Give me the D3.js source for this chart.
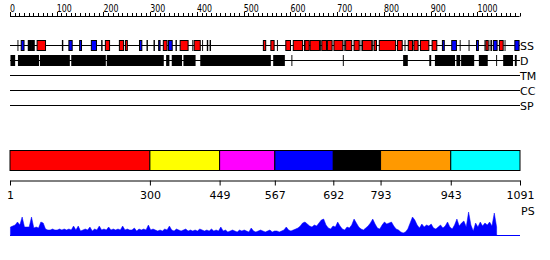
<!DOCTYPE html>
<html>
<head>
<meta charset="utf-8">
<script src="https://cdn.jsdelivr.net/npm/d3@7"></script>
<style>
  body { margin: 0; background: #fff; }
  text { font-family: "DejaVu Sans", sans-serif; }
</style>
</head>
<body>
<div id="chart"></div>
<script>
// sequence length
const seqLength = 1091

// secondary structure: helices (red), strands (blue), short marks (black)
const helixRanges = [[43, 45], [58, 76], [204, 213], [234, 243], [247, 251], [328, 336], [364, 381], [394, 407],
	[542, 547], [558, 565], [590, 600], [606, 626], [631, 640], [642, 662], [667, 677], [679, 689], [693, 712],
	[718, 731], [736, 747], [754, 774], [779, 784], [790, 825], [829, 839], [852, 861], [864, 873], [878, 896],
	[903, 913], [1018, 1023], [1047, 1055]]
const strandRanges = [[24, 30], [126, 133], [149, 153], [174, 185], [277, 282], [318, 321], [339, 347],
	[925, 929], [945, 955], [998, 1002], [1034, 1042], [1080, 1089]]
const ssMarks = [[16, 18], [38, 43], [45, 53], [111, 114], [195, 198], [292, 295], [307, 310], [354, 357],
	[390, 392], [411, 413], [421, 424], [427, 430], [571, 573], [629, 631], [663, 665], [714, 716], [750, 752],
	[775, 777], [844, 846], [962, 964], [981, 983], [1015, 1017], [1026, 1028], [1029, 1031], [1058, 1060]]

// disordered regions
const disorderRanges = [[1, 11], [17, 62], [64, 128], [131, 205], [207, 329], [334, 341], [346, 368], [371, 397],
	[407, 558], [563, 588], [602, 604], [712, 714], [841, 851], [897, 901], [909, 952], [955, 963], [965, 993],
	[1003, 1022], [1040, 1042], [1055, 1076], [1080, 1084]]

// tracks
const trackNames = ['SS', 'D', 'TM', 'CC', 'SP']

// domain boundaries
const domainBounds = [1, 300, 449, 567, 692, 793, 943, 1091]
const domainColors = ['#ff0000', '#ffff00', '#ff00ff', '#0000ff', '#000000', '#ff9900', '#00ffff']

// PS scores, one value per 5 residues starting at residue 1
const psBin = 5
const psScores = [8, 9, 10, 13, 10, 18, 8, 8, 8, 18, 7, 8, 7, 13, 12, 6, 5, 5, 6, 5,
	5, 6, 5, 6, 5, 6, 5, 9, 5, 9, 4, 5, 6, 5, 8, 4, 6, 5, 9, 5,
	6, 5, 8, 5, 6, 5, 6, 5, 9, 5, 6, 5, 5, 7, 4, 6, 5, 6, 5, 10,
	5, 6, 5, 4, 5, 4, 6, 5, 9, 5, 4, 6, 5, 4, 5, 6, 4, 5, 4, 5,
	4, 6, 5, 4, 5, 4, 6, 4, 5, 4, 8, 4, 5, 3, 4, 5, 4, 3, 5, 4,
	5, 4, 3, 7, 4, 3, 4, 5, 4, 3, 4, 5, 3, 4,
	4, 3, 4, 5, 8, 5, 4, 5, 6, 7, 9, 12, 13, 11, 9, 8, 10, 9, 12, 15,
	16, 10, 7, 6, 9, 8, 13, 9, 6, 5, 8, 7, 10, 16, 12, 8, 6, 5, 7, 9,
	12, 16, 11, 7, 6, 10, 13, 11, 12, 13, 9, 6, 5, 3, 2, 3, 6, 12, 18, 15,
	10, 7, 11, 8, 10, 9, 11, 7, 6, 8, 10, 7, 9, 13, 8, 6, 10, 16, 9, 12,
	14, 8, 23, 10, 4, 12, 8, 13, 9, 12, 10, 13, 9, 22, 8]

const svg = d3.select('#chart')
	.append('svg')
	.attr('width', 550)
	.attr('height', 260)

const x = d3.scaleLinear().domain([0, seqLength]).range([10, 520])
const xDom = d3.scaleLinear().domain([1, seqLength]).range([10, 520])

// ruler
const ruler = svg.append('g')
ruler.append('line')
	.attr('x1', x(0)).attr('x2', x(1090))
	.attr('y1', 16.5).attr('y2', 16.5)
	.attr('stroke', '#000')
ruler.selectAll('.tick')
	.data(d3.range(0, seqLength, 10))
	.join('line')
	.attr('x1', d => Math.round(x(d)) + 0.5)
	.attr('x2', d => Math.round(x(d)) + 0.5)
	.attr('y1', d => d % 100 == 0 ? 12 : 13)
	.attr('y2', 16.5)
	.attr('stroke', '#000')
ruler.selectAll('text')
	.data(d3.range(0, seqLength, 100))
	.join('text')
	.attr('x', d => x(d))
	.attr('y', 12)
	.attr('font-size', 10)
	.attr('textLength', d => String(d).length * 5)
	.attr('lengthAdjust', 'spacingAndGlyphs')
	.text(d => d)

// track lines and labels
const trackY = {SS: 45, D: 60, TM: 75, CC: 90, SP: 105}
const tracks = svg.append('g')
trackNames.forEach(function(name) {
	tracks.append('line')
		.attr('x1', x(0)).attr('x2', x(seqLength))
		.attr('y1', trackY[name] + 0.5).attr('y2', trackY[name] + 0.5)
		.attr('stroke', '#000')
	tracks.append('text')
		.attr('x', 520)
		.attr('y', trackY[name] + 4.5)
		.attr('font-size', 11)
		.text(name)
})

// secondary structure boxes
tracks.selectAll('.mark')
	.data(ssMarks)
	.join('rect')
	.attr('x', d => x(d[0]))
	.attr('width', d => x(d[1]) - x(d[0]))
	.attr('y', trackY.SS - 5)
	.attr('height', 11)
	.attr('fill', '#000')
tracks.selectAll('.helix')
	.data(helixRanges)
	.join('rect')
	.attr('x', d => x(d[0]))
	.attr('width', d => x(d[1]) - x(d[0]))
	.attr('y', trackY.SS - 4.5)
	.attr('height', 10)
	.attr('fill', '#ff0000')
	.attr('stroke', '#000')
tracks.selectAll('.strand')
	.data(strandRanges)
	.join('rect')
	.attr('x', d => x(d[0]))
	.attr('width', d => x(d[1]) - x(d[0]))
	.attr('y', trackY.SS - 4.5)
	.attr('height', 10)
	.attr('fill', '#0000ff')
	.attr('stroke', '#000')

// disorder boxes
tracks.selectAll('.dis')
	.data(disorderRanges)
	.join('rect')
	.attr('x', d => x(d[0]))
	.attr('width', d => x(d[1]) - x(d[0]))
	.attr('y', trackY.D - 5)
	.attr('height', 11)
	.attr('fill', '#000')

// domain bar
const domains = d3.pairs(domainBounds)
svg.append('g').selectAll('rect')
	.data(domains)
	.join('rect')
	.attr('x', d => xDom(d[0]))
	.attr('width', d => xDom(d[1]) - xDom(d[0]))
	.attr('y', 150.5)
	.attr('height', 20)
	.attr('fill', (d, i) => domainColors[i])
	.attr('stroke', '#000')

const axis = svg.append('g')
	.attr('transform', 'translate(0,180.5)')
	.call(d3.axisBottom(xDom).tickValues(domainBounds).tickFormat(d3.format('d'))
		.tickSize(5).tickSizeOuter(0).tickPadding(6))
axis.selectAll('text')
	.attr('font-size', 11)
	.attr('font-family', '"DejaVu Sans", sans-serif')
	.attr('fill', '#000')

// PS plot
const yPs = d3.scaleLinear().domain([0, 25]).range([235, 210])
const psData = psScores.map((v, i) => ({pos: 1 + i * psBin, v: v}))
svg.append('path')
	.datum(psData)
	.attr('d', d3.area()
		.x(d => x(d.pos))
		.y0(yPs(0))
		.y1(d => yPs(d.v)))
	.attr('fill', '#0000ff')
	.attr('stroke', '#0000ff')
	.attr('stroke-width', 0.5)
svg.append('line')
	.attr('x1', x(0)).attr('x2', x(seqLength))
	.attr('y1', yPs(0) + 0.5).attr('y2', yPs(0) + 0.5)
	.attr('stroke', '#0000ff')
svg.append('text')
	.attr('x', 521)
	.attr('y', 215)
	.attr('font-size', 11)
	.text('PS')
</script>
</body>
</html>
